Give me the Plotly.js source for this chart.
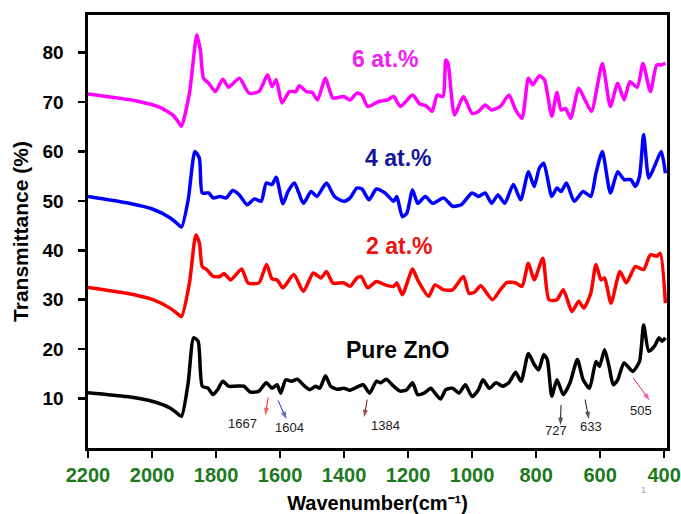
<!DOCTYPE html>
<html>
<head>
<meta charset="utf-8">
<script src="https://cdn.plot.ly/plotly-3.0.1.min.js"></script>
<style>html,body{margin:0;padding:0;background:#fff;}#chart{width:681px;height:514px;}</style>
</head>
<body>
<div id="chart"></div>
<script>
// ---- data ----
const pureX = [2200,2079,1997,1944,1923,1908,1887,1870,1856,1843,1825,1809,1795,1779,1761,1741,1713,1693,1666,1643,1625,1609,1598,1582,1564,1546,1523,1507,1489,1476,1458,1442,1421,1401,1381,1354,1340,1320,1299,1286,1268,1245,1224,1204,1186,1170,1150,1129,1116,1099,1082,1061,1041,1021,1000,980,966,946,925,905,885,864,847,824,806,792,776,765,751,735,715,694,671,653,633,613,602,586,572,559,545,525,498,477,464,448,430,416,407,396];
const pureY = [11.2,10.4,9.4,8.1,7.1,6.4,13.2,22.3,21.6,12.5,12.1,10.8,11.8,13.5,12.5,12.5,12.5,11.3,11.5,13.2,12.1,12.8,11.1,13.8,13.5,13.9,12.5,11.8,12.5,12.1,14.6,12.5,11.9,12.1,11.7,12.5,12.8,11.1,13.5,13.2,13.9,12.5,11.5,11.8,13.2,10.8,11.1,12.1,11.1,9.9,11.8,12.1,11.1,12.8,10.4,11.8,13.8,12.1,13.2,12.5,13.2,15.3,13.5,19.1,16.9,15.8,18.9,17.9,10.5,13.8,10.8,13.2,17.9,13.8,12.1,17.5,16.5,19.9,16.5,12.8,13.8,17.2,15.5,17.5,24.9,19.6,20.6,22.3,21.6,22.3];

const at2X = [2200,2079,1997,1944,1923,1908,1883,1863,1852,1843,1829,1809,1788,1775,1754,1720,1700,1666,1642,1625,1609,1591,1557,1527,1496,1472,1455,1435,1401,1381,1360,1347,1326,1299,1272,1245,1235,1218,1186,1170,1136,1116,1089,1061,1027,1010,993,973,936,912,891,864,844,824,806,779,760,735,715,688,667,651,629,613,597,586,566,538,518,490,464,443,423,412,396];
const at2Y = [32.5,31.3,30.0,28.3,27.3,26.6,33.4,43.1,41.5,36.7,36.1,34.7,34.7,35.3,34.0,36.2,33.4,33.4,37.1,34.2,34.0,32.4,35.1,31.7,35.4,34.4,35.7,33.4,33.4,32.7,34.4,34.7,32.4,33.7,33.0,32.7,33.4,31.0,36.2,34.0,30.7,33.0,32.0,32.0,34.7,31.3,31.5,32.8,30.0,32.0,33.5,33.4,32.7,37.4,34.0,38.4,30.0,30.0,32.0,27.6,29.7,28.3,31.3,37.1,34.0,34.4,29.3,35.7,33.4,36.7,36.1,39.1,38.8,39.4,29.3];

const at4X = [2200,2079,1997,1944,1923,1908,1887,1866,1852,1843,1823,1809,1788,1768,1748,1727,1703,1680,1659,1643,1625,1612,1591,1575,1555,1527,1503,1485,1455,1430,1401,1381,1360,1344,1322,1299,1272,1245,1235,1218,1204,1186,1170,1146,1123,1089,1061,1034,1000,980,959,939,919,898,871,848,824,806,790,776,751,735,722,705,681,653,629,613,593,568,545,525,504,490,477,464,448,430,409,396];
const at4Y = [50.9,49.6,48.3,46.6,45.5,44.7,50.2,60.0,58.6,51.6,51.6,50.6,50.9,50.6,52.1,51.2,49.2,50.4,49.9,53.6,53.3,54.8,49.4,51.9,53.6,49.5,51.9,50.9,53.6,50.9,49.9,50.6,52.6,52.4,50.2,52.4,51.6,49.9,50.9,46.8,47.5,52.2,49.5,50.9,49.5,50.6,48.9,49.2,51.6,50.9,51.6,49.5,51.2,49.5,53.3,50.2,55.9,52.9,56.6,57.6,50.9,52.6,51.9,53.6,49.9,51.9,50.9,55.6,60.0,51.6,55.9,54.3,54.3,52.9,54.9,63.4,54.6,57.0,60.0,55.6];

const at6X = [2200,2048,1975,1934,1918,1908,1883,1860,1849,1839,1823,1802,1779,1761,1727,1697,1666,1639,1625,1612,1594,1571,1551,1540,1517,1499,1483,1458,1435,1401,1381,1360,1344,1326,1292,1265,1245,1224,1186,1163,1143,1125,1109,1091,1082,1075,1055,1027,1000,980,959,939,912,885,864,844,824,810,790,774,751,735,722,708,692,667,647,627,593,568,545,525,507,484,466,443,423,409,396];
const at6Y = [71.6,70.2,68.9,67.3,66.0,65.1,71.8,83.6,80.5,74.8,73.8,72.1,74.6,73.0,74.8,71.8,72.1,75.5,73.1,74.5,69.8,72.1,72.1,73.3,72.1,71.9,70.4,74.8,70.8,71.1,70.4,71.8,71.4,69.1,70.1,70.4,71.1,69.1,71.4,69.6,69.2,68.1,71.4,71.1,78.5,77.8,67.4,71.1,67.7,68.1,69.4,68.4,69.1,71.4,68.4,66.7,74.8,73.5,75.3,74.5,67.1,71.9,68.4,68.7,66.7,72.8,70.4,68.1,77.8,69.1,73.8,70.4,74.1,73.0,77.8,72.1,77.5,77.5,77.8];

const seriesNames = ["Pure ZnO","2 at.%","4 at.%","6 at.%"];
const seriesColors = ["#000000","#ff0000","#0000ff","#ff00ff"];
const labelColors = ["#000000","#ee1111","#15159a","#f020f0"];
const labelX = [1231,1228,1231,1272];
const labelY = [19.9,40.9,58.6,78.8];

const xTicks = [2200,2000,1800,1600,1400,1200,1000,800,600,400];
const yTicks = [10,20,30,40,50,60,70,80];

// peak markers: label, text position, arrow tail, arrow head, arrow colour
const peakLabels = ["1667","1604","1384","727","633","505"];
const peakTextX = [1716,1569,1272,737,628,472];
const peakTextY = [4.9,4.1,4.5,3.5,4.3,7.5];
const arrowTailX = [1637,1606,1328,722,647,497];
const arrowTailY = [10.2,9.6,9.8,8.7,9.8,14.2];
const arrowHeadX = [1646,1580,1337,724,635,445];
const arrowHeadY = [6.6,5.8,6.2,4.6,5.8,9.6];
const arrowColors = ["#ee2020","#1a2ad0","#7a0a0a","#111111","#111111","#e0208f"];

const xs = [pureX, at2X, at4X, at6X];
const ys = [pureY, at2Y, at4Y, at6Y];

const FONT = "Arial, Liberation Sans, sans-serif";
const NB = "\u00a0\u00a0";

const traces = xs.map((x, i) => ({
  x: x, y: ys[i], type: "scatter", mode: "lines", name: seriesNames[i],
  line: {color: seriesColors[i], width: 3.5, shape: "spline", smoothing: 0.6},
  hoverinfo: "skip"
}));

peakLabels.forEach((t, i) => {
  traces.push({
    x: [arrowTailX[i], arrowHeadX[i]], y: [arrowTailY[i], arrowHeadY[i]],
    type: "scatter", mode: "lines+markers", hoverinfo: "skip",
    line: {color: arrowColors[i], width: 1},
    marker: {symbol: "arrow", angleref: "previous", size: [0, 8], color: arrowColors[i],
             line: {width: 0}}
  });
});

const annotations = [];
seriesNames.forEach((n, i) => {
  annotations.push({x: labelX[i], y: labelY[i], xref: "x", yref: "y", text: n, showarrow: false,
    font: {family: FONT, size: 23, color: labelColors[i], weight: "bold"}});
});
peakLabels.forEach((t, i) => {
  annotations.push({x: peakTextX[i], y: peakTextY[i], xref: "x", yref: "y", text: t, showarrow: false,
    font: {family: FONT, size: 13, color: "#222222"}});
});
annotations.push({x: (648 - 88) / (681 - 88 - 14), y: (514 - 66 - 497) / (514 - 66 - 15),
  xref: "paper", yref: "paper", text: "1", showarrow: false,
  font: {family: FONT, size: 9, color: "#999999"}});

const layout = {
  width: 681, height: 514,
  margin: {l: 88, r: 14, t: 15, b: 66},
  paper_bgcolor: "#ffffff", plot_bgcolor: "#ffffff",
  showlegend: false,
  xaxis: {
    range: [2200, 391], tickvals: xTicks, ticktext: xTicks.map(String),
    showgrid: false, zeroline: false,
    showline: true, linecolor: "#000", linewidth: 3, mirror: true,
    ticks: "outside", ticklen: 7, tickwidth: 2.5, tickcolor: "#000",
    tickfont: {family: FONT, size: 20, color: "#1c7a1c", weight: "bold"},
    title: {text: "Wavenumber(cm\u207B\u00B9)", standoff: 12,
      font: {family: FONT, size: 20, color: "#000", weight: "bold"}}
  },
  yaxis: {
    range: [0, 87.6], tickvals: yTicks, ticktext: yTicks.map(v => String(v) + NB),
    showgrid: false, zeroline: false,
    showline: true, linecolor: "#000", linewidth: 3, mirror: true,
    ticks: "outside", ticklen: 7, tickwidth: 2.5, tickcolor: "#000",
    tickfont: {family: FONT, size: 19, color: "#000", weight: "bold"},
    title: {text: "Transmittance (%)", standoff: 9,
      font: {family: FONT, size: 21, color: "#000", weight: "bold"}}
  },
  annotations: annotations
};

Plotly.newPlot("chart", traces, layout, {staticPlot: true});
</script>
</body>
</html>
